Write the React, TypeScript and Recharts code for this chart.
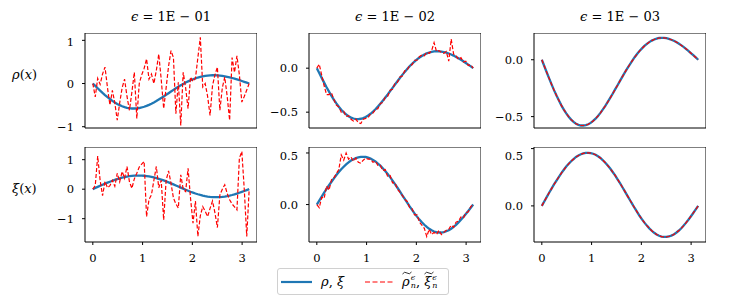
import { LineChart, Line, XAxis, YAxis, ReferenceArea } from "recharts";

// sample points on [0, pi]
const xGrid = [
  0, 0.049, 0.098, 0.147, 0.196, 0.245, 0.295, 0.344, 0.393, 0.442, 0.491, 0.54, 0.589, 0.638, 0.687, 0.736,
  0.785, 0.834, 0.884, 0.933, 0.982, 1.031, 1.08, 1.129, 1.178, 1.227, 1.276, 1.325, 1.374, 1.424, 1.473, 1.522,
  1.571, 1.62, 1.669, 1.718, 1.767, 1.816, 1.865, 1.914, 1.963, 2.013, 2.062, 2.111, 2.16, 2.209, 2.258, 2.307,
  2.356, 2.405, 2.454, 2.503, 2.553, 2.602, 2.651, 2.7, 2.749, 2.798, 2.847, 2.896, 2.945, 2.994, 3.043, 3.093,
  3.142,
];

const rhoExact = [
  0, -0.055, -0.11, -0.164, -0.217, -0.267, -0.315, -0.359, -0.401, -0.438, -0.472, -0.501, -0.526, -0.546, -0.562, -0.572,
  -0.578, -0.578, -0.575, -0.567, -0.555, -0.538, -0.518, -0.494, -0.467, -0.437, -0.405, -0.371, -0.336, -0.299, -0.261, -0.224,
  -0.186, -0.148, -0.111, -0.076, -0.042, -0.01, 0.022, 0.05, 0.076, 0.1, 0.121, 0.139, 0.155, 0.168, 0.178, 0.185,
  0.191, 0.193, 0.192, 0.189, 0.184, 0.176, 0.167, 0.156, 0.143, 0.128, 0.113, 0.096, 0.078, 0.059, 0.04, 0.02,
  0,
];

const xiExact = [
  0, 0.039, 0.077, 0.115, 0.151, 0.187, 0.221, 0.254, 0.286, 0.315, 0.343, 0.367, 0.39, 0.409, 0.427, 0.44,
  0.451, 0.458, 0.463, 0.463, 0.461, 0.455, 0.446, 0.433, 0.418, 0.398, 0.377, 0.352, 0.326, 0.296, 0.266, 0.232,
  0.198, 0.163, 0.127, 0.09, 0.054, 0.018, -0.018, -0.052, -0.086, -0.117, -0.146, -0.172, -0.196, -0.217, -0.235, -0.249,
  -0.261, -0.268, -0.271, -0.271, -0.267, -0.259, -0.249, -0.234, -0.217, -0.197, -0.174, -0.148, -0.121, -0.092, -0.062, -0.031,
  0,
];

// eps = 1E-01
const rhoNoisyE1 = [
  0, -0.31, 0.12, -0.02, 0.22, 0.38, -0.1, -0.5, -0.16, -0.45, -0.85, -0.45, -0.1, 0.1, -0.3, -0.62,
  -0.2, 0.26, -0.81, 0, 0.2, 0.35, 0.57, 0.1, 0.22, 0, 0.3, 0.68, 0.1, -0.58, -0.1, 0.4,
  0.76, 0.6, -0.7, 0.03, -0.97, 0.26, -0.1, -0.58, 0.15, 0.05, 0.12, 0.6, 1.07, -0.08, 0, -0.3,
  -0.74, -0.05, 0.2, 0.38, -0.62, -0.1, 0.15, -0.3, -0.85, 0.6, 0.26, 0.64, 0.2, -0.43, -0.3, -0.15,
  0,
];
const xiNoisyE1 = [
  0, 0.12, 1.12, 0.3, -0.22, 0.26, 0.05, 0.12, 0.3, 0.1, 0.54, 0.25, 0.6, 0.37, 0.77, 0.25,
  0.03, 0.35, 0.54, 0.75, 0.85, 0.94, -0.93, -0.35, -0.19, 0.3, 0.77, 0.05, 0.3, -1.04, 0.3, 0.62,
  0.2, -0.3, -0.5, -0.64, 0.49, 0, -0.08, 0.71, -0.3, -1.15, -0.4, -1.6, -0.9, -0.59, -0.75, -0.93,
  -0.65, -0.4, -0.8, -1.3, -0.2, 0, 0.15, -0.15, -0.36, -0.5, -0.6, -0.7, 1.05, 1.28, 0, -1.6,
  0,
];

// eps = 1E-02
const rhoNoisyE2 = [
  0, 0.045, -0.08, -0.2, -0.3, -0.3, -0.28, -0.36, -0.42, -0.44, -0.5, -0.49, -0.55, -0.54, -0.58, -0.6,
  -0.58, -0.62, -0.63, -0.58, -0.57, -0.56, -0.52, -0.51, -0.47, -0.46, -0.4, -0.39, -0.33, -0.32, -0.25, -0.24,
  -0.17, -0.16, -0.1, -0.09, -0.03, -0.02, 0.03, 0.04, 0.09, 0.09, 0.13, 0.15, 0.14, 0.18, 0.17, 0.2,
  0.29, 0.19, 0.2, 0.18, 0.17, 0.19, 0.08, 0.33, 0.16, 0.14, 0.1, 0.12, 0.07, 0.08, 0.03, 0.04,
  0,
];
const xiNoisyE2 = [
  0, -0.03, 0.07, 0.06, 0.18, 0.14, 0.24, 0.26, 0.3, 0.34, 0.48, 0.43, 0.5, 0.44, 0.46, 0.42,
  0.45, 0.41, 0.4, 0.43, 0.45, 0.44, 0.44, 0.41, 0.42, 0.38, 0.38, 0.33, 0.34, 0.27, 0.28, 0.21,
  0.21, 0.15, 0.12, 0.09, 0.05, 0.03, -0.03, -0.04, -0.1, -0.1, -0.17, -0.2, -0.23, -0.31, -0.24, -0.29,
  -0.27, -0.29, -0.25, -0.29, -0.27, -0.25, -0.24, -0.2, -0.22, -0.17, -0.16, -0.12, -0.13, -0.08, -0.07, -0.02,
  0,
];

const epsLabels = ["01", "02", "03"];
const xTicks = [0, 1, 2, 3];
const rhoTicks = [[-1, 0, 1], [-0.5, 0], [-0.5, 0]];
const xiTicks = [[-1, 0, 1], [0, 0.5], [0, 0.5]];
const rhoDomains = [[-1.03, 1.17], [-0.68, 0.4], [-0.6, 0.235]];
const xiDomains = [[-1.79, 1.43], [-0.363, 0.558], [-0.315, 0.514]];

const BLUE = "#1f77b4";
const FONT = "'DejaVu Serif', serif";
const X_DOMAIN = [-0.157, 3.299];
const PLOT_W = 172;
const PLOT_H = 95;
const Y_AXIS_W = 60;
const COL_LEFT = [85, 309, 534];
const ROW_TOP = [33, 147];

const fmt = (decimals: number) => (v: number) => {
  const s = Math.abs(v).toFixed(decimals);
  return v < 0 ? "−" + s : s;
};

// custom tick so the serif font is really used
const makeTick = (format: (v: number) => string, dy: string) => (props: any) => (
  <text
    x={props.x}
    y={props.y}
    dy={dy}
    textAnchor={props.textAnchor}
    fill="#000"
    style={{ fontFamily: FONT, fontSize: 11.5 }}
  >
    {format(props.payload.value)}
  </text>
);

function Panel({ exact, noisy, domain, ticks, decimals, left, top, showX }: any) {
  const data = xGrid.map((x, i) => ({ x, exact: exact[i], noisy: noisy[i] }));
  const xh = showX ? 30 : 8;
  return (
    <div style={{ position: "absolute", left: left - Y_AXIS_W, top }}>
      <LineChart
        width={Y_AXIS_W + PLOT_W}
        height={PLOT_H + xh}
        data={data}
        margin={{ top: 0, right: 0, bottom: 0, left: 0 }}
      >
        <XAxis
          dataKey="x"
          type="number"
          domain={X_DOMAIN}
          ticks={xTicks}
          allowDataOverflow
          height={xh}
          axisLine={false}
          tickLine={{ stroke: "#000" }}
          tickSize={3}
          tickMargin={9}
          tick={showX ? makeTick((v) => String(v), "0.71em") : false}
        />
        <YAxis
          type="number"
          domain={domain}
          ticks={ticks}
          allowDataOverflow
          width={Y_AXIS_W}
          axisLine={false}
          tickLine={{ stroke: "#000" }}
          tickSize={3}
          tickMargin={8}
          tick={makeTick(fmt(decimals), "0.355em")}
        />
        <Line
          dataKey="exact"
          stroke={BLUE}
          strokeWidth={2.3}
          dot={false}
          isAnimationActive={false}
        />
        <Line
          dataKey="noisy"
          stroke="red"
          strokeWidth={1.2}
          strokeDasharray="4 2"
          dot={false}
          isAnimationActive={false}
        />
        <ReferenceArea
          x1={X_DOMAIN[0]}
          x2={X_DOMAIN[1]}
          y1={domain[0]}
          y2={domain[1]}
          fill="none"
          fillOpacity={0}
          stroke="#000"
          strokeWidth={1}
          ifOverflow="visible"
        />
      </LineChart>
    </div>
  );
}

const rhoNoisy = [rhoNoisyE1, rhoNoisyE2, rhoExact];
const xiNoisy = [xiNoisyE1, xiNoisyE2, xiExact];

function Tilde({ sym }: { sym: string }) {
  return (
    <span style={{ display: "inline-flex", alignItems: "center", position: "relative" }}>
      <i>{sym}</i>
      <svg width={10} height={4} style={{ position: "absolute", left: 0, top: -3 }}>
        <path d="M0.5,3 Q2.5,0 5,2 T9.5,1" fill="none" stroke="#000" strokeWidth={0.8} />
      </svg>
      <span style={{ display: "inline-flex", flexDirection: "column", fontSize: 8, lineHeight: "8px", marginLeft: 1 }}>
        <i>ϵ</i>
        <i>n</i>
      </span>
    </span>
  );
}

export default function App() {
  return (
    <div style={{ position: "absolute", left: 0, top: 0, width: 731, height: 297, background: "#fff", fontFamily: FONT }}>
      {epsLabels.map((e, i) => (
        <div
          key={e}
          style={{ position: "absolute", left: COL_LEFT[i], top: 9, width: PLOT_W, textAlign: "center", fontSize: 13 }}
        >
          <i>ϵ</i> = 1E − {e}
        </div>
      ))}
      <div style={{ position: "absolute", left: 12, top: 67, fontSize: 13 }}>
        <i>ρ</i>(<i>x</i>)
      </div>
      <div style={{ position: "absolute", left: 12, top: 181, fontSize: 13 }}>
        <i>ξ</i>(<i>x</i>)
      </div>
      {[0, 1, 2].map((c) => (
        <Panel
          key={"r" + c}
          exact={rhoExact}
          noisy={rhoNoisy[c]}
          domain={rhoDomains[c]}
          ticks={rhoTicks[c]}
          decimals={c === 0 ? 0 : 1}
          left={COL_LEFT[c]}
          top={ROW_TOP[0]}
          showX={false}
        />
      ))}
      {[0, 1, 2].map((c) => (
        <Panel
          key={"x" + c}
          exact={xiExact}
          noisy={xiNoisy[c]}
          domain={xiDomains[c]}
          ticks={xiTicks[c]}
          decimals={c === 0 ? 0 : 1}
          left={COL_LEFT[c]}
          top={ROW_TOP[1]}
          showX={true}
        />
      ))}
      <div
        style={{
          position: "absolute",
          left: 277,
          top: 268,
          width: 170,
          height: 25,
          border: "1px solid #d0d0d0",
          borderRadius: 3,
          fontSize: 13,
          display: "flex",
          alignItems: "center",
        }}
      >
        <svg width={34} height={6} style={{ marginLeft: 2 }}>
          <line x1={1} y1={3} x2={32} y2={3} stroke={BLUE} strokeWidth={2.2} />
        </svg>
        <span style={{ marginLeft: 7 }}>
          <i>ρ</i>, <i>ξ</i>
        </span>
        <svg width={30} height={6} style={{ marginLeft: 20 }}>
          <line x1={1} y1={3} x2={29} y2={3} stroke="red" strokeWidth={1.2} strokeDasharray="5 2.5" />
        </svg>
        <span style={{ marginLeft: 8, display: "inline-flex", alignItems: "center" }}>
          <Tilde sym="ρ" />,&nbsp;<Tilde sym="ξ" />
        </span>
      </div>
    </div>
  );
}
